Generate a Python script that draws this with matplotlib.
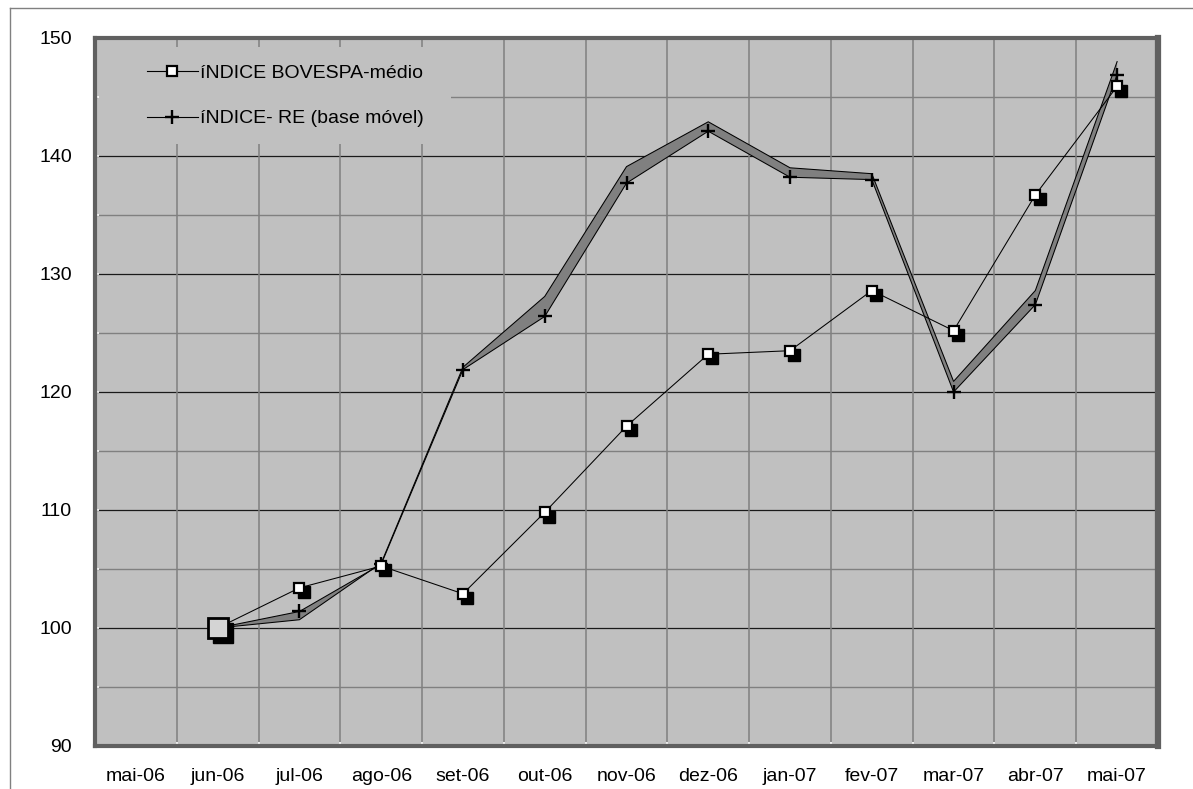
import matplotlib
matplotlib.use("Agg")
import matplotlib.pyplot as plt
import numpy as np
from matplotlib.lines import Line2D
from matplotlib.patches import Rectangle
from matplotlib.transforms import offset_copy

plt.rcParams['font.family'] = ['Liberation Sans', 'DejaVu Sans']

# Monthly indices (base jun-06 = 100)
meses = ['mai-06', 'jun-06', 'jul-06', 'ago-06', 'set-06', 'out-06', 'nov-06',
         'dez-06', 'jan-07', 'fev-07', 'mar-07', 'abr-07', 'mai-07']
bovespa_medio = [np.nan, 100.0, 103.4, 105.25, 102.9, 109.8, 117.1, 123.2,
                 123.5, 128.6, 125.2, 136.7, 145.9]
indice_re = [np.nan, 100.0, 101.4, 105.4, 121.9, 126.4, 137.7, 142.1,
             138.2, 138.0, 120.0, 127.4, 146.9]
faixa_re = [np.nan, 100.0, 100.7, 105.5, 122.1, 128.1, 139.1, 142.9,
            139.0, 138.5, 120.9, 128.6, 148.0]
rotulos_y = [90, 100, 110, 120, 130, 140, 150]
legenda = ['íNDICE BOVESPA-médio', 'íNDICE- RE (base móvel)']

W, H = 1193, 789
fig = plt.figure(figsize=(W / 100, H / 100), dpi=100)
fig.patch.set_facecolor('white')
ax = fig.add_axes([95 / W, 1 - 746 / H, (1158 - 95) / W, (746 - 38) / H])
ax.set_facecolor('#C0C0C0')

x = np.arange(len(meses))
bov = np.array(bovespa_medio)
re = np.array(indice_re)
fx = np.array(faixa_re)

ax.set_xlim(-0.5, len(meses) - 0.5)
ax.set_ylim(rotulos_y[0], rotulos_y[-1])

# gridlines
for v in np.arange(95, 150, 5):
    major = (v % 10 == 0)
    ax.axhline(v, color='#1a1a1a' if major else '#808080',
               lw=0.9 if major else 1.0, zorder=1)
for b in np.arange(0.5, len(meses) - 1, 1):
    ax.axvline(b, color='#808080', lw=1.1, zorder=1)

# background patch behind the legend
ax.add_patch(Rectangle((0.003, 0.85), 0.332, 0.137, transform=ax.transAxes,
                       facecolor='#C0C0C0', edgecolor='none', zorder=1.5))

# RE ribbon
ok = ~np.isnan(re)
ax.fill_between(x[ok], re[ok], fx[ok], facecolor='#808080', edgecolor='none',
                zorder=2)
ax.plot(x[ok], fx[ok], color='black', lw=0.75, zorder=3)
ax.plot(x[ok], re[ok], color='black', lw=0.75, marker='+', ms=10, mew=1.7,
        zorder=4)

# BOVESPA line with shadowed square markers
okb = ~np.isnan(bov)
ax.plot(x[okb], bov[okb], color='black', lw=0.75, zorder=3)
sombra = offset_copy(ax.transData, fig=fig, x=3.0, y=-3.0, units='points')
sombra_g = offset_copy(ax.transData, fig=fig, x=3.5, y=-3.5, units='points')
xi, yi = x[okb], bov[okb]
ax.plot(xi[1:], yi[1:], ls='none', marker='s', ms=8.5, mfc='black',
        mec='black', transform=sombra, zorder=5)
ax.plot(xi[1:], yi[1:], ls='none', marker='s', ms=7.5, mfc='white',
        mec='black', mew=1.6, zorder=6)
ax.plot(xi[:1], yi[:1], ls='none', marker='s', ms=15, mfc='black',
        mec='black', transform=sombra_g, zorder=5)
ax.plot(xi[:1], yi[:1], ls='none', marker='s', ms=14.5, mfc='#D4D4D4',
        mec='black', mew=2.0, zorder=6)

# axes, ticks and labels
ax.set_yticks(rotulos_y)
ax.set_yticks(np.arange(95, 150, 10), minor=True)
ax.set_xticks(x)
ax.set_xticklabels(meses)
ax.set_xticks(np.arange(-0.5, len(meses), 1), minor=True)
ax.tick_params(axis='y', which='both', direction='inout', length=6, width=1.2,
               color='white', labelsize=14, pad=13.5)
ax.tick_params(axis='x', which='major', length=0, labelsize=14, pad=16)
ax.tick_params(axis='x', which='minor', direction='inout', length=6,
               width=1.2, color='white')
for s in ax.spines.values():
    s.set_color('#606060')
    s.set_linewidth(3)
    s.set_zorder(7)
ax.spines['right'].set_linewidth(4.5)

# legend
handles = [
    Line2D([], [], color='black', lw=0.8, marker='s', ms=7, mfc='white',
           mec='black', mew=1.6),
    Line2D([], [], color='black', lw=0.8, marker='+', ms=10, mew=1.7),
]
ax.legend(handles, legenda, loc='upper left',
          bbox_to_anchor=((147 - 95) / 1063, (746 - 64) / 708),
          frameon=False, fontsize=14, handlelength=2.6, handletextpad=0.1,
          labelspacing=1.45, borderpad=0, borderaxespad=0)

# chart area border (left and top)
fig.add_artist(Line2D([10 / W, 10 / W], [0, 1 - 8 / H], transform=fig.transFigure,
                      color='#808080', lw=1))
fig.add_artist(Line2D([10 / W, 1], [1 - 8 / H, 1 - 8 / H],
                      transform=fig.transFigure, color='#808080', lw=1))

fig.savefig('out.png', dpi=100, facecolor='white')
